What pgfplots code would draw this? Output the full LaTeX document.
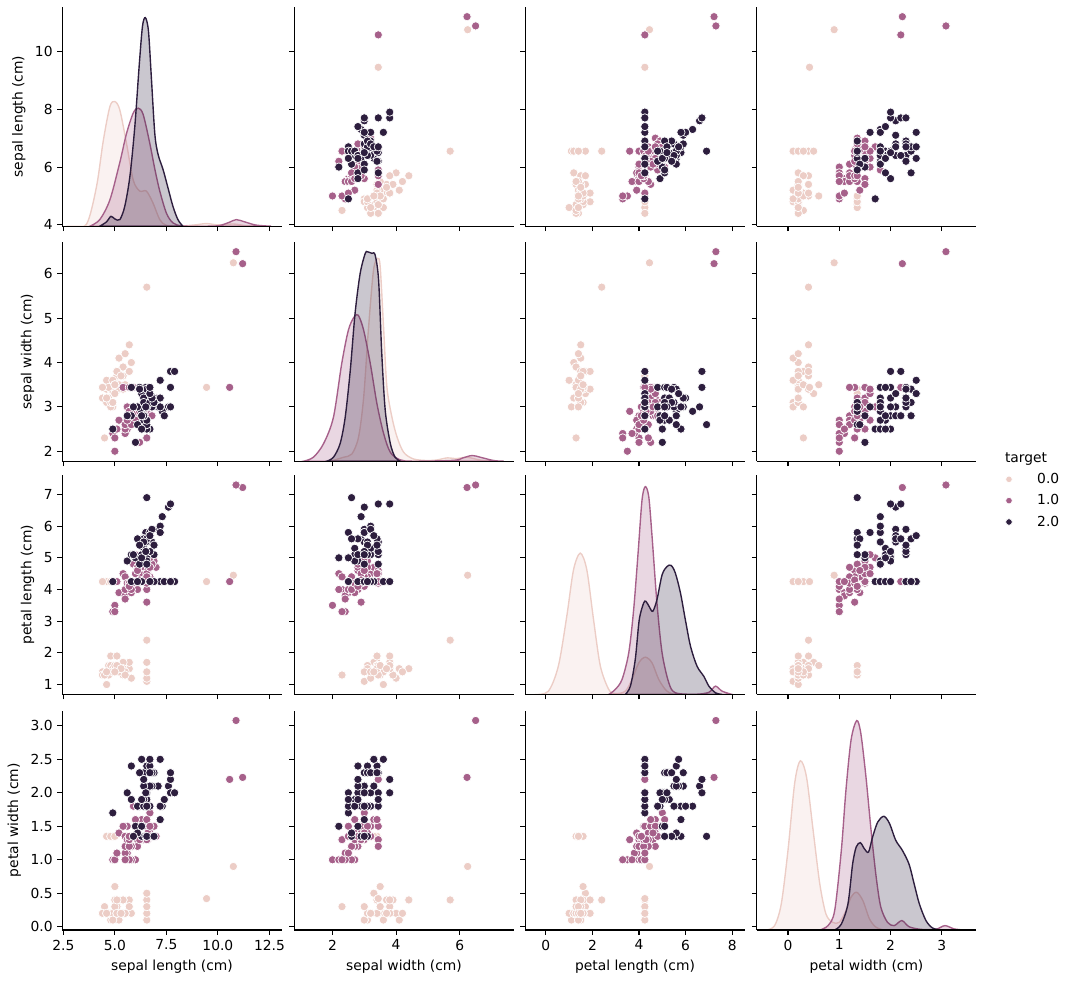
\documentclass[border=0pt]{standalone}
\usepackage{fontspec}
\setmainfont{DejaVu Sans}
\usepackage{pgfplots}
\usepackage{pgfplotstable}
\pgfplotsset{compat=1.18}
\definecolor{c0}{RGB}{236,205,198}
\definecolor{c1}{RGB}{166,96,138}
\definecolor{c2}{RGB}{45,30,62}

\pgfplotstableread{
sl sw pl pw
5.1 3.5 1.4 0.2
4.9 3.0 1.4 1.35
4.7 3.2 1.3 1.35
4.6 3.1 4.25 0.2
5.0 3.6 1.4 0.2
6.55 5.7 2.4 0.4
4.6 3.4 1.4 1.35
5.0 3.4 1.5 0.2
4.4 3.44 1.4 0.2
4.9 3.1 1.5 0.1
5.4 3.7 1.5 0.2
4.8 3.4 1.6 1.35
4.8 3.0 4.25 0.1
6.55 3.0 1.1 0.1
5.8 4.0 1.2 0.2
5.7 4.4 1.5 0.4
5.4 3.9 1.3 0.4
5.1 3.5 1.4 0.3
5.7 3.8 1.7 0.3
5.1 3.8 1.5 0.3
5.4 3.4 1.7 0.2
5.1 3.7 4.25 0.4
4.6 3.6 1.0 0.2
6.55 3.3 1.7 0.5
4.8 3.4 1.9 0.2
5.0 3.44 1.6 0.2
5.0 3.4 1.6 0.4
5.2 3.5 1.5 0.2
5.2 3.4 1.4 0.2
4.7 3.44 1.6 0.2
4.8 3.1 1.6 0.2
5.4 3.4 1.5 0.4
5.2 4.1 1.5 0.1
5.5 4.2 1.4 0.2
4.9 3.1 1.5 0.2
6.55 3.2 1.2 0.2
5.5 3.5 1.3 0.2
4.9 3.6 1.4 0.1
4.4 3.44 1.3 0.2
5.1 3.4 1.5 0.2
5.0 3.5 4.25 0.3
4.5 2.3 1.3 0.3
4.4 3.2 4.25 0.2
5.0 3.5 1.6 0.6
5.1 3.8 1.9 0.4
6.55 3.0 1.4 0.3
5.1 3.8 1.6 0.2
4.6 3.2 1.4 0.2
5.3 3.7 1.5 0.2
5.0 3.3 1.4 1.35
10.75 6.25 4.45 0.9
9.45 3.44 4.25 0.42
}\setosa

\pgfplotstableread{
sl sw pl pw
7.0 3.2 4.7 1.35
6.4 3.2 4.5 1.5
6.9 3.1 4.9 1.5
6.55 2.3 4.0 1.3
6.5 2.8 4.6 1.5
5.7 2.8 4.25 1.3
6.3 3.3 4.7 1.6
4.9 2.4 3.3 1.0
6.6 3.44 4.6 1.3
5.2 2.7 3.9 1.4
5.0 2.0 3.5 1.0
6.55 3.0 4.2 1.5
6.0 2.2 4.0 1.0
6.1 2.9 4.7 1.4
6.55 2.9 3.6 1.3
6.7 3.1 4.4 1.4
5.6 3.0 4.25 1.5
5.8 2.7 4.1 1.0
6.2 2.2 4.5 1.5
5.6 2.5 3.9 1.1
5.9 3.44 4.8 1.8
6.1 2.8 4.0 1.3
6.3 2.5 4.25 1.5
6.1 2.8 4.7 1.2
6.4 2.9 4.3 1.3
6.6 3.0 4.4 1.4
6.8 2.8 4.8 1.35
6.7 3.0 5.0 1.7
6.0 2.9 4.5 1.5
5.7 2.6 4.25 1.0
5.5 2.4 3.8 1.1
5.5 2.4 3.7 1.0
5.8 2.7 3.9 1.2
6.0 2.7 5.1 1.6
5.4 3.44 4.5 1.5
6.55 3.4 4.5 1.6
6.7 3.1 4.7 1.5
6.55 2.3 4.4 1.3
5.6 3.0 4.1 1.3
5.5 2.5 4.0 1.35
5.5 2.6 4.4 1.2
6.1 3.0 4.6 1.4
5.8 2.6 4.0 1.2
5.0 2.3 3.3 1.0
5.6 2.7 4.2 1.3
5.7 3.44 4.2 1.2
5.7 2.9 4.2 1.3
6.2 2.9 4.3 1.3
5.1 2.5 4.25 1.1
5.7 2.8 4.1 1.35
11.2 6.23 7.22 2.23
10.88 6.5 7.3 3.08
10.57 3.44 4.25 2.2
}\versi

\pgfplotstableread{
sl sw pl pw
6.3 3.3 4.25 2.5
6.55 2.7 5.1 1.9
7.1 3.0 5.9 2.1
6.3 2.9 5.6 1.35
6.5 3.0 5.8 1.35
7.6 3.0 6.6 2.1
4.9 2.5 4.25 1.7
7.3 2.9 6.3 1.8
6.7 2.5 5.8 1.8
7.2 3.6 4.25 2.5
6.5 3.2 5.1 2.0
6.4 2.7 5.3 1.9
6.8 3.0 5.5 2.1
6.55 2.5 5.0 2.0
5.8 2.8 4.25 2.4
6.4 3.2 5.3 2.3
6.5 3.44 5.5 1.8
7.7 3.8 6.7 2.2
6.55 2.6 6.9 1.35
6.0 2.2 5.0 1.5
6.9 3.2 4.25 2.3
5.6 2.8 4.9 2.0
7.7 3.44 6.7 2.0
6.55 2.7 4.9 1.8
6.7 3.3 5.7 2.1
7.2 3.2 6.0 1.8
6.2 3.44 4.8 1.8
6.1 3.0 4.25 1.8
6.4 2.8 5.6 2.1
7.2 3.0 5.8 1.6
7.4 2.8 4.25 1.9
7.9 3.8 4.25 2.0
6.4 2.8 5.6 2.2
6.3 2.8 5.1 1.5
6.1 2.6 5.6 1.4
7.7 3.0 4.25 2.3
6.55 3.4 5.6 2.4
6.4 3.1 5.5 1.8
6.55 3.0 4.8 1.8
6.9 3.1 5.4 1.35
6.7 3.1 4.25 2.4
6.9 3.1 5.1 2.3
5.8 3.44 5.1 1.9
6.8 3.2 5.9 2.3
6.7 3.3 5.7 2.5
6.7 3.44 5.2 2.3
6.3 2.5 5.0 1.9
6.5 3.0 5.2 2.0
6.2 3.4 5.4 2.3
5.9 3.0 5.1 1.35
}\virg

\pgfplotsset{
  base/.style={scale only axis, width=158.63pt, height=158.63pt, anchor=north west,
    axis x line*=bottom, axis y line*=left,
    axis line style={-, line width=0.8pt, black},
    tick align=outside, major tick length=3.5pt,
    major tick style={line width=0.8pt, black},
    tick label style={font=\fontsize{10}{12}\selectfont},
    label style={font=\fontsize{10}{12}\selectfont},
    /pgf/number format/assume math mode=true,
    xticklabels={}, yticklabels={}},
  kdeax/.style={scale only axis, width=158.63pt, height=158.63pt, anchor=north west,
    ymin=0, ymax=1, hide axis},
  C1/.style={xmin=2.45, xmax=13.1, xtick={2.5,5,7.5,10,12.5}},
  C2/.style={xmin=0.8, xmax=7.7, xtick={2,4,6}},
  C3/.style={xmin=-0.88, xmax=8.54, xtick={0,2,4,6,8}},
  C4/.style={xmin=-0.61, xmax=3.67, xtick={0,1,2,3}},
  R1/.style={ymin=3.955, ymax=11.545, ytick={4,6,8,10}},
  R2/.style={ymin=1.775, ymax=6.725, ytick={2,3,4,5,6}},
  R3/.style={ymin=0.685, ymax=7.615, ytick={1,2,3,4,5,6,7}},
  R4/.style={ymin=-0.049, ymax=3.229, ytick={0,0.5,1,1.5,2,2.5,3}},
  L1/.style={yticklabels={4,6,8,10}, ylabel={sepal length (cm)}},
  L2/.style={yticklabels={2,3,4,5,6}, ylabel={sepal width (cm)}},
  L3/.style={yticklabels={1,2,3,4,5,6,7}, ylabel={petal length (cm)}},
  L4/.style={yticklabels={0.0,0.5,1.0,1.5,2.0,2.5,3.0}, ylabel={petal width (cm)}},
  B1/.style={xticklabels={2.5,5.0,7.5,10.0,12.5}, xlabel={sepal length (cm)}},
  B2/.style={xticklabels={2,4,6}, xlabel={sepal width (cm)}},
  B3/.style={xticklabels={0,2,4,6,8}, xlabel={petal length (cm)}},
  B4/.style={xticklabels={0,1,2,3}, xlabel={petal width (cm)}},
  sc/.style={only marks, mark=*, mark size=3pt, color=#1,
    mark options={fill=#1, draw=white, line width=0.5pt}},
  kde/.style={draw=#1, fill=#1, fill opacity=0.25, line width=1pt, smooth, tension=0.5},
  legdot/.style={legend image code/.code={%
      \draw[##1, mark size=2.4pt] plot coordinates {(0cm,0cm)};}},
}
\newcommand{\scat}[2]{%
  \addplot[sc=c0] table[x=#1,y=#2] {\setosa};
  \addplot[sc=c1] table[x=#1,y=#2] {\versi};
  \addplot[sc=c2] table[x=#1,y=#2] {\virg};
}

\begin{document}
\begin{tikzpicture}
\useasboundingbox (0,0) rectangle (772.57pt,-709.69pt);
% ---------- Row 1 ----------
\begin{axis}[kdeax, C1, at={(45.02pt,-4.84pt)}]
\addplot[kde=c0] coordinates {(2.9,0)(3.63,0.01)(4.11,0.18)(4.44,0.39)(4.76,0.545)(5.0,0.568)(5.24,0.53)(5.56,0.38)(5.89,0.21)(6.21,0.16)(6.53,0.16)(6.85,0.106)(7.18,0.03)(7.5,0.004)(8.2,0.001)(8.9,0.006)(9.45,0.012)(10.0,0.006)(10.75,0.01)(11.4,0.002)(12.0,0)} \closedcycle;
\addplot[kde=c1] coordinates {(3.79,0)(4.27,0.03)(4.76,0.12)(5.24,0.29)(5.56,0.42)(5.89,0.515)(6.13,0.538)(6.37,0.51)(6.69,0.38)(6.94,0.26)(7.18,0.16)(7.5,0.06)(7.82,0.015)(8.3,0.001)(9.5,0)(10.08,0.003)(10.56,0.018)(10.89,0.03)(11.29,0.02)(11.85,0.005)(12.58,0)} \closedcycle;
\addplot[kde=c2] coordinates {(4.27,0)(4.6,0.02)(4.81,0.045)(5.0,0.033)(5.24,0.03)(5.48,0.09)(5.73,0.227)(5.97,0.455)(6.18,0.73)(6.34,0.91)(6.48,0.95)(6.63,0.89)(6.77,0.68)(6.94,0.42)(7.1,0.326)(7.34,0.258)(7.58,0.174)(7.82,0.09)(8.06,0.03)(8.3,0)} \closedcycle;
\end{axis}
\begin{axis}[base, C1, R1, L1, at={(45.02pt,-4.84pt)}]
\addplot[draw=none] coordinates {(5,5)};
\end{axis}
\begin{axis}[base, C2, R1, at={(212.69pt,-4.84pt)}]
\scat{sw}{sl}
\end{axis}
\begin{axis}[base, C3, R1, at={(379.63pt,-4.84pt)}]
\scat{pl}{sl}
\end{axis}
\begin{axis}[base, C4, R1, at={(546.87pt,-4.84pt)}]
\scat{pw}{sl}
\end{axis}
% ---------- Row 2 ----------
\begin{axis}[base, C1, R2, L2, at={(45.02pt,-174.68pt)}]
\scat{sl}{sw}
\end{axis}
\begin{axis}[kdeax, C2, at={(212.69pt,-174.68pt)}]
\addplot[kde=c0] coordinates {(1.93,0)(2.35,0.018)(2.61,0.033)(2.82,0.11)(2.98,0.29)(3.13,0.6)(3.29,0.87)(3.42,0.924)(3.5,0.886)(3.61,0.6)(3.71,0.34)(3.87,0.2)(4.03,0.11)(4.24,0.04)(4.55,0.01)(4.97,0.003)(5.3,0.006)(5.6,0.015)(5.9,0.012)(6.23,0.018)(6.65,0.005)(7.07,0)} \closedcycle;
\addplot[kde=c1] coordinates {(1.09,0)(1.4,0.018)(1.72,0.08)(2.03,0.2)(2.29,0.444)(2.5,0.597)(2.68,0.657)(2.81,0.665)(2.98,0.597)(3.19,0.444)(3.4,0.26)(3.61,0.125)(3.82,0.04)(4.13,0.006)(4.55,0)(5.81,0.004)(6.1,0.015)(6.39,0.026)(6.65,0.018)(7.07,0.003)(7.39,0)} \closedcycle;
\addplot[kde=c2] coordinates {(1.82,0)(2.03,0.018)(2.24,0.08)(2.4,0.2)(2.56,0.414)(2.71,0.673)(2.87,0.855)(3.03,0.947)(3.1,0.954)(3.24,0.947)(3.34,0.94)(3.45,0.825)(3.55,0.49)(3.66,0.23)(3.82,0.08)(3.97,0.018)(4.13,0)} \closedcycle;
\end{axis}
\begin{axis}[base, C2, R2, at={(212.69pt,-174.68pt)}]
\addplot[draw=none] coordinates {(3,3)};
\end{axis}
\begin{axis}[base, C3, R2, at={(379.63pt,-174.68pt)}]
\scat{pl}{sw}
\end{axis}
\begin{axis}[base, C4, R2, at={(546.87pt,-174.68pt)}]
\scat{pw}{sw}
\end{axis}
% ---------- Row 3 ----------
\begin{axis}[base, C1, R3, L3, at={(45.02pt,-343.28pt)}]
\scat{sl}{pl}
\end{axis}
\begin{axis}[base, C2, R3, at={(212.69pt,-343.28pt)}]
\scat{sw}{pl}
\end{axis}
\begin{axis}[kdeax, C3, at={(379.63pt,-343.28pt)}]
\addplot[kde=c0] coordinates {(-0.46,0)(0.11,0.015)(0.54,0.13)(0.9,0.356)(1.19,0.568)(1.48,0.644)(1.76,0.568)(2.05,0.34)(2.34,0.13)(2.7,0.023)(2.98,0.004)(3.41,0.015)(3.7,0.068)(3.99,0.144)(4.27,0.17)(4.56,0.144)(4.85,0.068)(5.2,0.015)(5.56,0)} \closedcycle;
\addplot[kde=c1] coordinates {(2.7,0)(2.98,0.023)(3.27,0.068)(3.56,0.19)(3.77,0.386)(3.96,0.644)(4.13,0.886)(4.27,0.947)(4.42,0.9)(4.56,0.72)(4.77,0.417)(4.99,0.19)(5.28,0.053)(5.56,0.008)(6.42,0.001)(7.0,0.01)(7.28,0.038)(7.57,0.015)(8.0,0)} \closedcycle;
\addplot[kde=c2] coordinates {(3.41,0)(3.63,0.038)(3.84,0.16)(4.01,0.34)(4.2,0.417)(4.3,0.424)(4.44,0.4)(4.59,0.379)(4.77,0.432)(4.99,0.545)(5.2,0.583)(5.38,0.588)(5.56,0.553)(5.78,0.462)(5.99,0.34)(6.21,0.22)(6.49,0.129)(6.78,0.083)(7.0,0.038)(7.28,0.008)(7.57,0)} \closedcycle;
\end{axis}
\begin{axis}[base, C3, R3, at={(379.63pt,-343.28pt)}]
\addplot[draw=none] coordinates {(3,3)};
\end{axis}
\begin{axis}[base, C4, R3, at={(546.87pt,-343.28pt)}, clip mode=individual,
  legend style={at={(1.114,1.035)}, anchor=north west, draw=none, fill=none,
    font=\fontsize{10}{12}\selectfont, row sep=2.5pt, legend cell align=left,
    /tikz/every odd column/.append style={column sep=16pt}}]
\addplot[sc=c0, legdot] table[x=pw,y=pl] {\setosa}; \addlegendentry{0.0}
\addplot[sc=c1, legdot] table[x=pw,y=pl] {\versi}; \addlegendentry{1.0}
\addplot[sc=c2, legdot] table[x=pw,y=pl] {\virg}; \addlegendentry{2.0}
\node[anchor=base west, inner sep=3.33pt, font=\fontsize{10}{12}\selectfont]
  at (axis description cs:1.109,1.059) {target};
\end{axis}
% ---------- Row 4 ----------
\begin{axis}[base, C1, R4, L4, B1, at={(45.02pt,-513.48pt)}]
\scat{sl}{pw}
\end{axis}
\begin{axis}[base, C2, R4, B2, at={(212.69pt,-513.48pt)}]
\scat{sw}{pw}
\end{axis}
\begin{axis}[base, C3, R4, B3, at={(379.63pt,-513.48pt)}]
\scat{pl}{pw}
\end{axis}
\begin{axis}[kdeax, C4, at={(546.87pt,-513.48pt)}]
\addplot[kde=c0] coordinates {(-0.42,0)(-0.26,0.02)(-0.13,0.12)(0.0,0.363)(0.13,0.668)(0.24,0.771)(0.36,0.698)(0.49,0.454)(0.62,0.21)(0.74,0.073)(0.87,0.035)(1.0,0.035)(1.13,0.088)(1.23,0.15)(1.34,0.172)(1.46,0.134)(1.59,0.05)(1.72,0.012)(1.88,0)} \closedcycle;
\addplot[kde=c1] coordinates {(0.62,0)(0.78,0.02)(0.91,0.088)(1.04,0.363)(1.13,0.637)(1.23,0.866)(1.34,0.954)(1.42,0.896)(1.52,0.698)(1.62,0.454)(1.72,0.24)(1.81,0.104)(1.94,0.035)(2.07,0.02)(2.22,0.043)(2.36,0.015)(2.59,0.003)(2.88,0.003)(3.06,0.02)(3.24,0.005)(3.43,0)} \closedcycle;
\addplot[kde=c2] coordinates {(0.91,0)(1.04,0.027)(1.17,0.12)(1.26,0.3)(1.33,0.378)(1.41,0.398)(1.49,0.37)(1.57,0.355)(1.65,0.424)(1.75,0.492)(1.87,0.518)(1.98,0.485)(2.1,0.409)(2.23,0.363)(2.36,0.3)(2.46,0.21)(2.56,0.12)(2.69,0.043)(2.82,0.009)(2.98,0)} \closedcycle;
\end{axis}
\begin{axis}[base, C4, R4, B4, at={(546.87pt,-513.48pt)}]
\addplot[draw=none] coordinates {(1,1)};
\end{axis}
\end{tikzpicture}
\end{document}
